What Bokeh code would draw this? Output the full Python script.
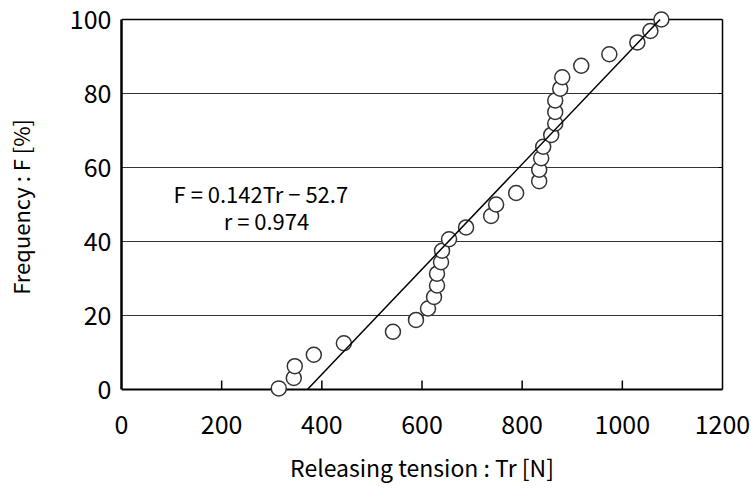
from bokeh.plotting import figure
from bokeh.models import Range1d, LinearAxis, Span, Label, FixedTicker
from bokeh.embed import file_html
from bokeh.resources import INLINE

# ---- data ----
tension = [314, 344, 346, 384, 444, 542, 588, 612, 624, 630, 630, 638, 640, 654,
           688, 738, 748, 788, 834, 834, 838, 842, 858, 866, 866, 866, 876, 880,
           918, 974, 1030, 1056, 1078]
frequency = [0.3, 3.1, 6.3, 9.4, 12.5, 15.6, 18.8, 21.9, 25.0, 28.1, 31.3, 34.4,
             37.5, 40.6, 43.8, 46.9, 50.0, 53.1, 56.3, 59.4, 62.5, 65.6, 68.8,
             71.9, 75.0, 78.1, 81.3, 84.4, 87.5, 90.6, 93.8, 96.9, 100.0]
x_ticks = [0, 200, 400, 600, 800, 1000, 1200]
y_ticks = [0, 20, 40, 60, 80, 100]
grid_ticks = [20, 40, 60, 80]
slope = 0.142
intercept = -52.7
eq_text = "F = 0.142Tr \u2212 52.7"
r_text = "r = 0.974"
x_title = "Releasing tension : Tr [N]"
y_title = "Frequency : F [%]"

FONT = "Noto Sans CJK JP"
PX = 3.7  # pixels per F unit
y_lo = -15 / PX
y_hi = 100 + 10 / PX

p = figure(width=751, height=493, output_backend="svg", toolbar_location=None,
           x_range=Range1d(0, 1200), y_range=Range1d(y_lo, y_hi),
           min_border_left=121, min_border_right=29,
           min_border_top=9, min_border_bottom=89)
p.outline_line_color = None
p.background_fill_color = "white"
p.border_fill_color = "white"

p.xgrid.visible = False
p.ygrid.ticker = FixedTicker(ticks=grid_ticks)
p.ygrid.grid_line_color = "#333333"
p.ygrid.grid_line_width = 1

# left axis
p.yaxis.ticker = FixedTicker(ticks=y_ticks)
p.yaxis.bounds = (0, 100)
p.yaxis.axis_line_width = 2.5
p.yaxis.axis_line_color = "black"
p.yaxis.major_tick_in = 0
p.yaxis.major_tick_out = 0
p.yaxis.minor_tick_line_color = None
p.yaxis.major_label_text_font = FONT
p.yaxis.major_label_text_font_size = "25px"
p.yaxis.major_label_text_color = "black"
p.yaxis.major_label_standoff = 10
p.yaxis.axis_label = y_title
p.yaxis.axis_label_text_font = FONT
p.yaxis.axis_label_text_font_size = "22px"
p.yaxis.axis_label_text_font_style = "normal"
p.yaxis.axis_label_text_color = "black"
p.yaxis.axis_label_standoff = 31

# bottom axis (labels only; line drawn at F = 0)
p.xaxis.ticker = FixedTicker(ticks=x_ticks)
p.xaxis.axis_line_color = None
p.xaxis.major_tick_line_color = None
p.xaxis.minor_tick_line_color = None
p.xaxis.major_label_text_font = FONT
p.xaxis.major_label_text_font_size = "25px"
p.xaxis.major_label_text_color = "black"
p.xaxis.major_label_standoff = 4
p.xaxis.axis_label = x_title
p.xaxis.axis_label_text_font = FONT
p.xaxis.axis_label_text_font_size = "23px"
p.xaxis.axis_label_text_font_style = "normal"
p.xaxis.axis_label_text_color = "black"
p.xaxis.axis_label_standoff = 13

# right border axis
rax = LinearAxis(ticker=FixedTicker(ticks=y_ticks), bounds=(0, 100),
                 major_label_text_alpha=0, major_label_text_font_size="1px",
                 major_tick_in=4, major_tick_out=0, minor_tick_line_color=None,
                 axis_line_width=1.5, axis_line_color="black")
p.add_layout(rax, "right")

# bottom and top frame lines
p.add_layout(Span(location=0, dimension="width", line_color="black",
                  line_width=2, level="underlay"))
p.add_layout(Span(location=100, dimension="width", line_color="black",
                  line_width=1.5, level="underlay"))

# inner ticks on the x axis
inner = x_ticks[1:-1]
p.segment(x0=inner, y0=[0] * len(inner), x1=inner, y1=[9 / PX] * len(inner),
          line_color="black", line_width=1.5)

# data points
p.scatter(tension, frequency, size=15, marker="circle", fill_color="white",
          line_color="#333333", line_width=1.5)

# regression line
fit_x = [(0 - intercept) / slope, (100 - intercept) / slope]
p.line(fit_x, [0, 100], line_color="black", line_width=1.5)

# annotation
p.add_layout(Label(x=104, y=53.2, text=eq_text, text_font=FONT,
                   text_font_size="22px", text_baseline="middle",
                   text_color="black"))
p.add_layout(Label(x=204, y=45.7, text=r_text, text_font=FONT,
                   text_font_size="22px", text_baseline="middle",
                   text_color="black"))

open("out.html", "w").write(file_html(p, INLINE))
